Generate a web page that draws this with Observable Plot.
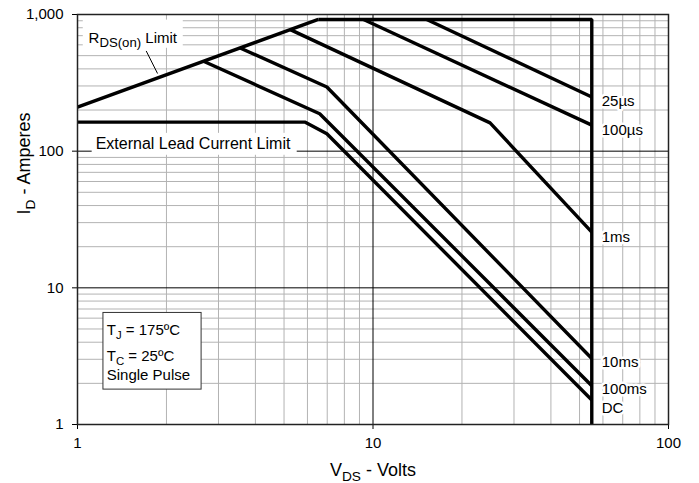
<!DOCTYPE html>
<html><head><meta charset="utf-8">
<script src="https://cdn.jsdelivr.net/npm/d3@7"></script>
<script src="https://cdn.jsdelivr.net/npm/@observablehq/plot@0.6"></script>
<style>
html,body{margin:0;padding:0;background:#fff;}
</style>
</head><body><div id="chart"></div>
<script>
// ---- tick / grid values ----
const xTicks = [1, 10, 100];
const yTicks = [1, 10, 100, 1000];
const xMinor = [2, 3, 4, 5, 6, 7, 8, 9, 20, 30, 40, 50, 60, 70, 80, 90];
const yMinor = [2, 3, 4, 5, 6, 7, 8, 9, 20, 30, 40, 50, 60, 70, 80, 90, 200, 300, 400, 500, 600, 700, 800, 900];
const xMajor = [10];
const yMajor = [10, 100];

// ---- curves: [V_DS (V), I_D (A)] ----
const rdsOnLimit = [[1, 210], [6.53, 920]];
const boundary   = [[6.53, 920], [55, 920], [55, 1]];
const pulse25us  = [[15.2, 920], [55, 249]];
const pulse100us = [[9.29, 920], [55, 155]];
const pulse1ms   = [[5.25, 775], [24.9, 161], [55, 25.6]];
const pulse10ms  = [[3.55, 569], [6.98, 295], [55, 3.04]];
const pulse100ms = [[2.67, 455], [6.6, 188], [55, 1.92]];
const dcCurve    = [[1, 163], [5.9, 163], [6.98, 134], [55, 1.51]];

// ---- curve labels ----
const curveLabels = ["25µs", "100µs", "1ms", "10ms", "100ms", "DC"];
const curveLabelAmps = [233, 142, 23.4, 2.87, 1.80, 1.31];
const labelVolts = 55;

const curves = [rdsOnLimit, boundary, pulse25us, pulse100us, pulse1ms, pulse10ms, pulse100ms, dcCurve];

const conditionLines = ["T_{J} = 175ºC", "T_{C} = 25ºC", "Single Pulse"];
const conditionAmps = [4.9, 3.16, 2.3];

const font = "'Liberation Sans', Arial, Helvetica, sans-serif";

const plot = Plot.plot({
  width: 699,
  height: 483,
  marginLeft: 77,
  marginRight: 31,
  marginTop: 14,
  marginBottom: 59,
  x: {type: "log", domain: [1, 100]},
  y: {type: "log", domain: [1, 1000]},
  style: {fontFamily: font, fontSize: "15px", color: "#000", background: "#fff"},
  marks: [
    Plot.ruleX(xMinor, {stroke: "#b3b3b3", strokeWidth: 1}),
    Plot.ruleY(yMinor, {stroke: "#b3b3b3", strokeWidth: 1}),
    Plot.ruleX(xMajor, {stroke: "#000", strokeWidth: 1}),
    Plot.ruleY(yMajor, {stroke: "#000", strokeWidth: 1}),
    Plot.axisX({ticks: xTicks, tickSize: 5, tickPadding: 8, tickFormat: d => String(d), label: null, fontSize: 15}),
    Plot.axisY({ticks: yTicks, tickSize: 5, tickPadding: 9, tickFormat: d3.format(","), label: null, fontSize: 15}),
    // white label backgrounds
    Plot.rect([0], {x1: 1.121, x2: 5.54, y1: 93.3, y2: 135, fill: "#fff"}),
    Plot.rect([0], {x1: 1.046, x2: 2.28, y1: 566, y2: 910, fill: "#fff"}),
    // curves
    ...curves.map(c => Plot.line(c, {x: d => d[0], y: d => d[1], stroke: "#000", strokeWidth: 3.4, strokeLinejoin: "miter", strokeLinecap: "butt"})),
    // leader line for RDS(on) label
    Plot.link([0], {x1: 1.708, y1: 541, x2: 1.866, y2: 370, stroke: "#000", strokeWidth: 1}),
    Plot.frame({stroke: "#222", strokeWidth: 1.5}),
    // conditions box
    Plot.rect([0], {x1: 1.224, x2: 2.63, y1: 1.80, y2: 6.55, fill: "#fff", stroke: "#333", strokeWidth: 1}),
    Plot.text(conditionLines, {x: 1.256, y: (d, i) => conditionAmps[i], text: d => d, textAnchor: "start", fontSize: 15, fill: "#000"}),
    // annotations
    Plot.text(["External Lead Current Limit"], {x: 2.46, y: 114, text: d => d, fontSize: 16, fill: "#000"}),
    Plot.text(["R_{DS(on)} Limit"], {x: 1.09, y: 676, text: d => d, textAnchor: "start", fontSize: 15, fill: "#000"}),
    // curve labels
    Plot.text(curveLabels, {x: () => labelVolts, y: (d, i) => curveLabelAmps[i], text: d => d, dx: 10, textAnchor: "start", fontSize: 15, fill: "#000", stroke: "#fff", strokeWidth: 5, paintOrder: "stroke"}),
    // axis titles
    Plot.text(["I_{D} - Amperes"], {frameAnchor: "left", text: d => d, rotate: -90, dx: -53, dy: -5, lineAnchor: "middle", fontSize: 18, fill: "#000"}),
    Plot.text(["V_{DS} - Volts"], {frameAnchor: "bottom", text: d => d, dy: 46, lineAnchor: "middle", fontSize: 18, fill: "#000"})
  ]
});

document.getElementById("chart").appendChild(plot);

// convert "_{...}" segments into subscript tspans
function applySubscripts(svg) {
  svg.querySelectorAll("text").forEach(el => {
    const raw = el.textContent;
    if (!/_\{/.test(raw)) return;
    const fs = parseFloat(getComputedStyle(el).fontSize) || 15;
    const ratio = raw.startsWith("R_") ? 0.88 : 0.76;
    while (el.firstChild) el.removeChild(el.firstChild);
    const parts = raw.split(/(_\{[^}]*\})/);
    let shifted = false;
    parts.forEach(p => {
      if (!p) return;
      const t = document.createElementNS("http://www.w3.org/2000/svg", "tspan");
      if (p.startsWith("_{")) {
        t.textContent = p.slice(2, -1);
        t.setAttribute("font-size", (fs * ratio).toFixed(1) + "px");
        t.setAttribute("dy", (fs * 0.28).toFixed(1));
        shifted = true;
      } else {
        t.textContent = p;
        if (shifted) { t.setAttribute("dy", (-fs * 0.28).toFixed(1)); shifted = false; }
      }
      el.appendChild(t);
    });
  });
}
applySubscripts(plot);
</script>
</body></html>
